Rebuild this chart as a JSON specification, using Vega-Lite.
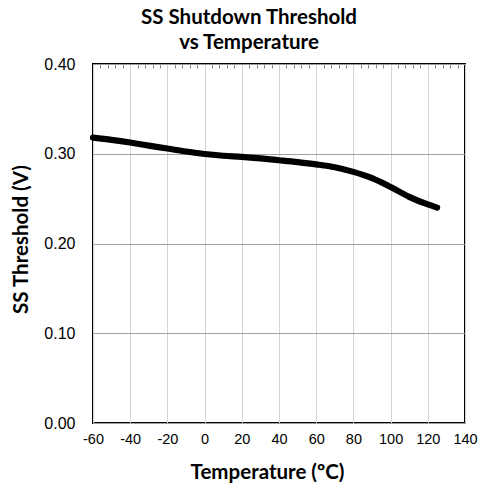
{
  "$schema": "https://vega.github.io/schema/vega-lite/v6.json",
  "width": 372,
  "height": 359,
  "autosize": "none",
  "padding": {"left": 93, "top": 64, "right": 13, "bottom": 64},
  "background": "white",
  "title": {
    "text": ["SS Shutdown Threshold", "vs Temperature"],
    "font": "Lato",
    "fontSize": 20.5,
    "fontWeight": "bold",
    "color": "black",
    "anchor": "middle",
    "lineHeight": 24.5,
    "offset": 3,
    "dx": -30
  },
  "config": {
    "view": {"stroke": "black", "strokeWidth": 2},
    "axis": {"domain": false, "labelColor": "black", "titleColor": "black"}
  },
  "data": {
    "values": [
      {"temp": -60, "v": 0.318},
      {"temp": -50, "v": 0.3155},
      {"temp": -40, "v": 0.3125},
      {"temp": -30, "v": 0.309},
      {"temp": -20, "v": 0.3058},
      {"temp": -10, "v": 0.3025},
      {"temp": 0, "v": 0.2997},
      {"temp": 10, "v": 0.2978},
      {"temp": 20, "v": 0.2965},
      {"temp": 30, "v": 0.2948},
      {"temp": 40, "v": 0.2928},
      {"temp": 50, "v": 0.2907},
      {"temp": 60, "v": 0.2882},
      {"temp": 70, "v": 0.285},
      {"temp": 80, "v": 0.2798},
      {"temp": 90, "v": 0.2728},
      {"temp": 100, "v": 0.263},
      {"temp": 110, "v": 0.252},
      {"temp": 120, "v": 0.2435},
      {"temp": 125, "v": 0.2400}
    ]
  },
  "layer": [
    {
      "mark": {"type": "line", "color": "black", "strokeWidth": 6.2, "strokeCap": "round", "strokeJoin": "round", "interpolate": "monotone"},
      "encoding": {
        "x": {
          "field": "temp", "type": "quantitative",
          "scale": {"domain": [-60, 140], "nice": false, "zero": false},
          "axis": {
            "values": [-60, -40, -20, 0, 20, 40, 60, 80, 100, 120, 140],
            "labelExpr": "replace(datum.label, '\u2212', '-')",
            "labelOverlap": false, "labelFlush": false,
            "title": "Temperature (ºC)",
            "titleFont": "Lato", "titleFontSize": 20.5, "titleFontWeight": "bold", "titlePadding": 17,
            "titleX": 174,
            "labelFont": "Liberation Sans", "labelFontSize": 14.5, "labelPadding": 9,
            "ticks": false,
            "grid": true, "gridColor": "#d4d4d4", "gridWidth": 1
          }
        },
        "y": {
          "field": "v", "type": "quantitative",
          "scale": {"domain": [0, 0.4], "nice": false},
          "axis": {
            "values": [0, 0.1, 0.2, 0.3, 0.4],
            "format": ".2f",
            "labelOverlap": false, "labelFlush": false,
            "title": "SS Threshold (V)",
            "titleFont": "Lato", "titleFontSize": 20.5, "titleFontWeight": "bold", "titlePadding": 12,
            "titleY": 175,
            "labelFont": "Liberation Sans", "labelFontSize": 16, "labelPadding": 18,
            "ticks": false,
            "grid": true, "gridColor": "#a0a0a0", "gridWidth": 1
          }
        }
      }
    },
    {
      "mark": {"type": "line", "strokeOpacity": 0},
      "encoding": {
        "x": {
          "field": "temp", "type": "quantitative",
          "axis": {
            "orient": "top",
            "values": [-56, -52, -48, -44, -36, -32, -28, -24, -16, -12, -8, -4, 4, 8, 12, 16, 24, 28, 32, 36, 44, 48, 52, 56, 64, 68, 72, 76, 84, 88, 92, 96, 104, 108, 112, 116, 124, 128, 132, 136],
            "labels": false, "title": null, "grid": false,
            "ticks": true, "tickSize": -4, "tickColor": "#888888", "tickWidth": 1
          }
        },
        "y": {"field": "v", "type": "quantitative", "axis": null}
      }
    }
  ],
  "resolve": {"axis": {"x": "independent", "y": "independent"}}
}
